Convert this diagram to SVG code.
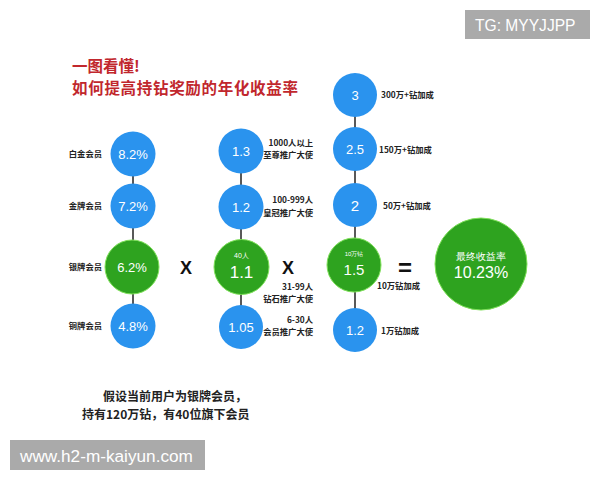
<svg xmlns="http://www.w3.org/2000/svg" width="600" height="480" viewBox="0 0 600 480">
<defs>
<style>
.blue{fill:#2a93ee}
.green{fill:#2ea31f;stroke:#7fe05a;stroke-width:1}
.v{font-family:"Liberation Sans",Arial,sans-serif;fill:#fff;text-anchor:middle}
.lab{font-family:"Noto Sans CJK SC","Liberation Sans",sans-serif;font-weight:bold;font-size:8.3px;fill:#222}
.op{font-family:"Liberation Sans",Arial,sans-serif;font-weight:bold;fill:#111;text-anchor:middle}
.ln{stroke:#222;stroke-width:1.5}
</style>
</defs>
<rect width="600" height="480" fill="#fff"/>
<g id="title" font-family="Noto Sans CJK SC,sans-serif" font-weight="bold" fill="#c1272d">
<text x="72" y="72" font-size="15.5">一图看懂!</text>
<text x="72" y="94" font-size="15.5" textLength="226">如何提高持钻奖励的年化收益率</text>
</g>
<g id="connectors">
<line class="ln" x1="133" y1="154" x2="133" y2="326"/>
<line class="ln" x1="241" y1="151" x2="241" y2="327"/>
<line class="ln" x1="355" y1="95" x2="355" y2="330"/>
</g>
<g id="col1">
<g id="n82"><circle class="blue" cx="133" cy="154" r="22.5"/><text class="v" x="133" y="159" font-size="13">8.2%</text><text class="lab" x="102" y="157" text-anchor="end">白金会员</text></g>
<g id="n72"><circle class="blue" cx="133" cy="206" r="22.5"/><text class="v" x="133" y="211" font-size="13">7.2%</text><text class="lab" x="102" y="209" text-anchor="end">金牌会员</text></g>
<g id="n62"><circle class="green" cx="132" cy="267" r="27"/><text class="v" x="132" y="272" font-size="13">6.2%</text><text class="lab" x="102" y="270" text-anchor="end">银牌会员</text></g>
<g id="n48"><circle class="blue" cx="133" cy="326" r="22.5"/><text class="v" x="133" y="331" font-size="13">4.8%</text><text class="lab" x="102" y="329" text-anchor="end">铜牌会员</text></g>
</g>
<g id="x1"><text class="op" x="186" y="274" font-size="18">X</text></g>
<g id="col2">
<g id="n13"><circle class="blue" cx="241" cy="151" r="22.5"/><text class="v" x="241" y="156" font-size="13">1.3</text><text class="lab" x="313" y="146" text-anchor="end">1000人以上</text><text class="lab" x="313" y="158" text-anchor="end">至尊推广大使</text></g>
<g id="n12"><circle class="blue" cx="241" cy="207" r="22.5"/><text class="v" x="241" y="212" font-size="13">1.2</text><text class="lab" x="313" y="203" text-anchor="end">100-999人</text><text class="lab" x="313" y="216" text-anchor="end">皇冠推广大使</text></g>
<g id="n11"><circle class="green" cx="241.5" cy="267" r="27.5"/><text class="v" x="241.5" y="258" font-size="7" font-family="Noto Sans CJK SC,sans-serif">40人</text><text class="v" x="241.5" y="278" font-size="17">1.1</text><text class="lab" x="313" y="290" text-anchor="end">31-99人</text><text class="lab" x="313" y="302" text-anchor="end">钻石推广大使</text></g>
<g id="n105"><circle class="blue" cx="241" cy="327" r="22"/><text class="v" x="241" y="332" font-size="13">1.05</text><text class="lab" x="313" y="323" text-anchor="end">6-30人</text><text class="lab" x="313" y="335" text-anchor="end">会员推广大使</text></g>
</g>
<g id="x2"><text class="op" x="288" y="274" font-size="18">X</text></g>
<g id="col3">
<g id="n3"><circle class="blue" cx="355" cy="95" r="22"/><text class="v" x="355" y="100" font-size="13">3</text><text class="lab" x="381" y="98">300万+钻加成</text></g>
<g id="n25"><circle class="blue" cx="355" cy="149" r="22"/><text class="v" x="355" y="154" font-size="13">2.5</text><text class="lab" x="379" y="153">150万+钻加成</text></g>
<g id="n2"><circle class="blue" cx="355" cy="205" r="22"/><text class="v" x="355" y="211" font-size="15">2</text><text class="lab" x="383" y="209">50万+钻加成</text></g>
<g id="n15"><circle class="green" cx="354" cy="265" r="27"/><text class="v" x="354" y="256" font-size="6" font-family="Noto Sans CJK SC,sans-serif">10万钻</text><text class="v" x="354" y="275" font-size="15">1.5</text><text class="lab" x="377" y="289">10万钻加成</text></g>
<g id="n12b"><circle class="blue" cx="355" cy="330" r="22"/><text class="v" x="355" y="335" font-size="13">1.2</text><text class="lab" x="381" y="334">1万钻加成</text></g>
</g>
<g id="eq"><text class="op" x="405" y="276" font-size="24">=</text></g>
<g id="result"><circle class="green" cx="481" cy="264" r="46"/><text class="v" x="481" y="260" font-size="10" font-family="Noto Sans CJK SC,sans-serif">最终收益率</text><text class="v" x="481" y="278" font-size="16">10.23%</text></g>
<g id="note" font-family="Noto Sans CJK SC,sans-serif" font-weight="bold" font-size="12" fill="#222">
<text x="103" y="401">假设当前用户为银牌会员，</text>
<text x="82" y="419">持有120万钻，有40位旗下会员</text>
</g>
<g id="wm1"><rect x="10" y="440" width="195" height="30" fill="#aaa"/><text x="20" y="462" font-family="Liberation Sans,Arial,sans-serif" font-size="17.2" fill="#fff">www.h2-m-kaiyun.com</text></g>
<g id="wm2"><rect x="465" y="10" width="125" height="29" fill="#aaa"/><text x="475" y="31" font-family="Liberation Sans,Arial,sans-serif" font-size="15.6" fill="#fff">TG: MYYJJPP</text></g>
</svg>
